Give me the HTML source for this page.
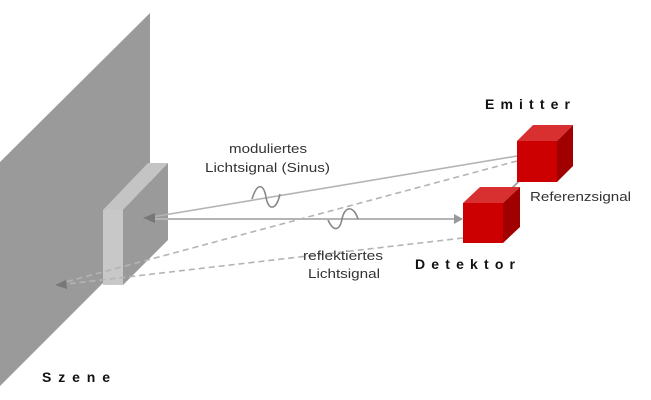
<!DOCTYPE html>
<html><head><style>
body{margin:0;background:#fff;width:651px;height:400px;overflow:hidden}
svg{display:block}
text{font-family:"Liberation Sans",sans-serif;fill:#333}
.b{font-weight:bold;font-size:14px;fill:#111}
</style></head><body>
<svg width="651" height="400" viewBox="0 0 651 400">
<polygon points="0,162 150,13 150,236 0,386" fill="#9a9a9a"/>
<polygon points="103,210 148,163 168,163 123,210" fill="#c4c4c4"/>
<polygon points="103,210 123,210 123,285 103,285" fill="#c8c8c8"/>
<polygon points="123,210 168,163 168,240 123,285" fill="#9a9a9a"/>
<g stroke="#b4b4b4" stroke-width="1.6" fill="none">
<line x1="517" y1="156" x2="146" y2="218"/>
<line x1="146" y1="219" x2="462" y2="219" stroke-width="2"/>
<line x1="517" y1="161" x2="58" y2="284" stroke-dasharray="6,4"/>
<line x1="463" y1="238" x2="58" y2="285" stroke-dasharray="6,4"/>
<line x1="537" y1="164" x2="512" y2="188" stroke="#999"/>
<path d="M252,199 C258,180 264,186 266,197 C268,210 276,212 280,194" stroke="#888"/>
<path d="M328,220 C334,233 340,230 342,219 C345,205 354,206 358,219" stroke="#888"/>
</g>
<path d="M143,218 L155,213 L155,223 z" fill="#777"/>
<path d="M55,285 L66,280 L67,289 z" fill="#777"/>
<path d="M463,219 L454,214 L454,224 z" fill="#999"/>
<polygon points="517,141 533,125 573,125 557,141" fill="#d83030"/>
<polygon points="557,141 573,125 573,166 557,182" fill="#a00000"/>
<rect x="517" y="141" width="40" height="41" fill="#cc0000"/>
<polygon points="463,203 480,187 520,187 503,203" fill="#d83030"/>
<polygon points="503,203 520,187 520,227 503,243" fill="#a00000"/>
<rect x="463" y="203" width="40" height="40" fill="#cc0000"/>
<text x="229" y="153" font-size="13" textLength="78" lengthAdjust="spacingAndGlyphs">moduliertes</text>
<text x="205" y="172" font-size="13" textLength="125" lengthAdjust="spacingAndGlyphs">Lichtsignal (Sinus)</text>
<text x="303" y="260" font-size="13" textLength="80" lengthAdjust="spacingAndGlyphs">reflektiertes</text>
<text x="308" y="278" font-size="13" textLength="72" lengthAdjust="spacingAndGlyphs">Lichtsignal</text>
<text x="530" y="201" font-size="13" textLength="101" lengthAdjust="spacingAndGlyphs">Referenzsignal</text>
<text x="485" y="109" class="b" textLength="85">Emitter</text>
<text x="415" y="269" class="b" textLength="100">Detektor</text>
<text x="42" y="382" class="b" textLength="68">Szene</text>
</svg>
</body></html>
